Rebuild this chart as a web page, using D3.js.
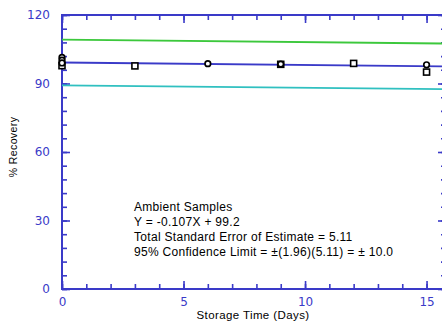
<!DOCTYPE html>
<html>
<head>
<meta charset="utf-8">
<script src="https://cdn.jsdelivr.net/npm/d3@7"></script>
<style>
  html, body { margin: 0; padding: 0; background: #fff; }
  svg { display: block; }
</style>
</head>
<body>
<svg id="chart" width="442" height="323"></svg>
<script>
// Storage time (days) on the x axis, % recovery on the y axis
const xMajorTicks = [0, 5, 10, 15];
const xMinorTicks = d3.range(0, 16, 1);
const yMajorTicks = [0, 30, 60, 90, 120];
const yMinorTicks = d3.range(0, 121, 6);

// Regression and 95% confidence limits: Y = -0.107X + 99.2, ±10.0
const slope = -0.107;
const intercept = 99.2;
const confidence = 10.0;
const lineDays = [0, 15.8];

// Replicate recoveries (open circles and open squares)
const circleDays = [0, 0, 0, 6, 9, 15];
const circleValues = [101.4, 100.2, 99.0, 98.7, 98.5, 98.2];
const squareDays = [0, 3, 9, 12, 15];
const squareValues = [97.8, 97.7, 98.4, 98.8, 95.0];

const noteLines = [
  "Ambient Samples",
  "Y =  -0.107X + 99.2",
  "Total Standard Error of Estimate = 5.11",
  "95% Confidence Limit = \u00B1(1.96)(5.11) = \u00B1 10.0"
];

const axisColor = "#3a3ac8";
const svg = d3.select("#chart");

const x = d3.scaleLinear().domain([0, 15.8]).range([62, 446]);
const y = d3.scaleLinear().domain([0, 120]).range([289, 15]);

// frame
svg.append("rect")
  .attr("x", x(0)).attr("y", y(120))
  .attr("width", x(15.8) - x(0)).attr("height", y(0) - y(120))
  .attr("fill", "none").attr("stroke", axisColor).attr("stroke-width", 2);

function styleAxis(g) {
  g.select(".domain").remove();
  g.selectAll(".tick line").attr("stroke", axisColor).attr("stroke-width", 1.6);
  g.selectAll(".tick text")
    .attr("fill", axisColor)
    .style("font-family", "'DejaVu Sans', sans-serif")
    .style("font-size", "12px");
}

// bottom axis: minor and major ticks pointing inward
svg.append("g").attr("transform", `translate(0,${y(0)})`)
  .call(d3.axisBottom(x).tickValues(xMinorTicks).tickSize(-5).tickSizeOuter(0).tickFormat(""))
  .call(styleAxis);
svg.append("g").attr("transform", `translate(0,${y(0)})`)
  .call(d3.axisBottom(x).tickValues(xMajorTicks).tickSize(-8).tickSizeOuter(0).tickPadding(8).tickFormat(d3.format("d")))
  .call(styleAxis);

// top axis ticks
svg.append("g").attr("transform", `translate(0,${y(120)})`)
  .call(d3.axisTop(x).tickValues(xMinorTicks).tickSize(-5).tickSizeOuter(0).tickFormat(""))
  .call(styleAxis);
svg.append("g").attr("transform", `translate(0,${y(120)})`)
  .call(d3.axisTop(x).tickValues(xMajorTicks).tickSize(-8).tickSizeOuter(0).tickFormat(""))
  .call(styleAxis);

// left axis
svg.append("g").attr("transform", `translate(${x(0)},0)`)
  .call(d3.axisLeft(y).tickValues(yMinorTicks).tickSize(-5).tickSizeOuter(0).tickFormat(""))
  .call(styleAxis);
svg.append("g").attr("transform", `translate(${x(0)},0)`)
  .call(d3.axisLeft(y).tickValues(yMajorTicks).tickSize(-8).tickSizeOuter(0).tickPadding(12).tickFormat(d3.format("d")))
  .call(styleAxis);

// right axis ticks
svg.append("g").attr("transform", `translate(${x(15.8)},0)`)
  .call(d3.axisRight(y).tickValues(yMinorTicks).tickSize(-5).tickSizeOuter(0).tickFormat(""))
  .call(styleAxis);
svg.append("g").attr("transform", `translate(${x(15.8)},0)`)
  .call(d3.axisRight(y).tickValues(yMajorTicks).tickSize(-8).tickSizeOuter(0).tickFormat(""))
  .call(styleAxis);

// regression line and confidence limits
const fitLines = [
  { offset: confidence, color: "#3cc83c" },
  { offset: 0, color: "#3a3ac8" },
  { offset: -confidence, color: "#30c0c0" }
];
const line = d3.line().x(d => x(d[0])).y(d => y(d[1]));
fitLines.forEach(f => {
  svg.append("path")
    .datum(lineDays.map(d => [d, intercept + slope * d + f.offset]))
    .attr("d", line)
    .attr("fill", "none")
    .attr("stroke", f.color)
    .attr("stroke-width", 1.8);
});

// sample markers
svg.append("g").selectAll("rect")
  .data(squareDays.map((d, i) => [d, squareValues[i]]))
  .join("rect")
  .attr("x", d => x(d[0]) - 3).attr("y", d => y(d[1]) - 3)
  .attr("width", 6).attr("height", 6)
  .attr("fill", "#fff").attr("stroke", "#000").attr("stroke-width", 1.6);

svg.append("g").selectAll("circle")
  .data(circleDays.map((d, i) => [d, circleValues[i]]))
  .join("circle")
  .attr("cx", d => x(d[0])).attr("cy", d => y(d[1]))
  .attr("r", 2.8)
  .attr("fill", "#fff").attr("stroke", "#000").attr("stroke-width", 1.7);

// annotation block
svg.append("g").selectAll("text")
  .data(noteLines)
  .join("text")
  .attr("x", 134)
  .attr("y", (d, i) => 211 + i * 15)
  .attr("fill", "#000")
  .style("font-family", "'Liberation Sans', Arial, sans-serif")
  .style("font-size", "12px")
  .style("letter-spacing", "0.3px")
  .text(d => d);

// axis titles
svg.append("text")
  .attr("transform", "translate(17,147) rotate(-90)")
  .attr("text-anchor", "middle")
  .attr("fill", "#000")
  .style("font-family", "'Liberation Sans', Arial, sans-serif")
  .style("font-size", "10.5px")
  .style("letter-spacing", "0.4px")
  .text("% Recovery");

svg.append("text")
  .attr("x", 253).attr("y", 319)
  .attr("text-anchor", "middle")
  .attr("fill", "#000")
  .style("font-family", "'Liberation Sans', Arial, sans-serif")
  .style("font-size", "11.5px")
  .style("letter-spacing", "0.4px")
  .text("Storage Time (Days)");
</script>
</body>
</html>
